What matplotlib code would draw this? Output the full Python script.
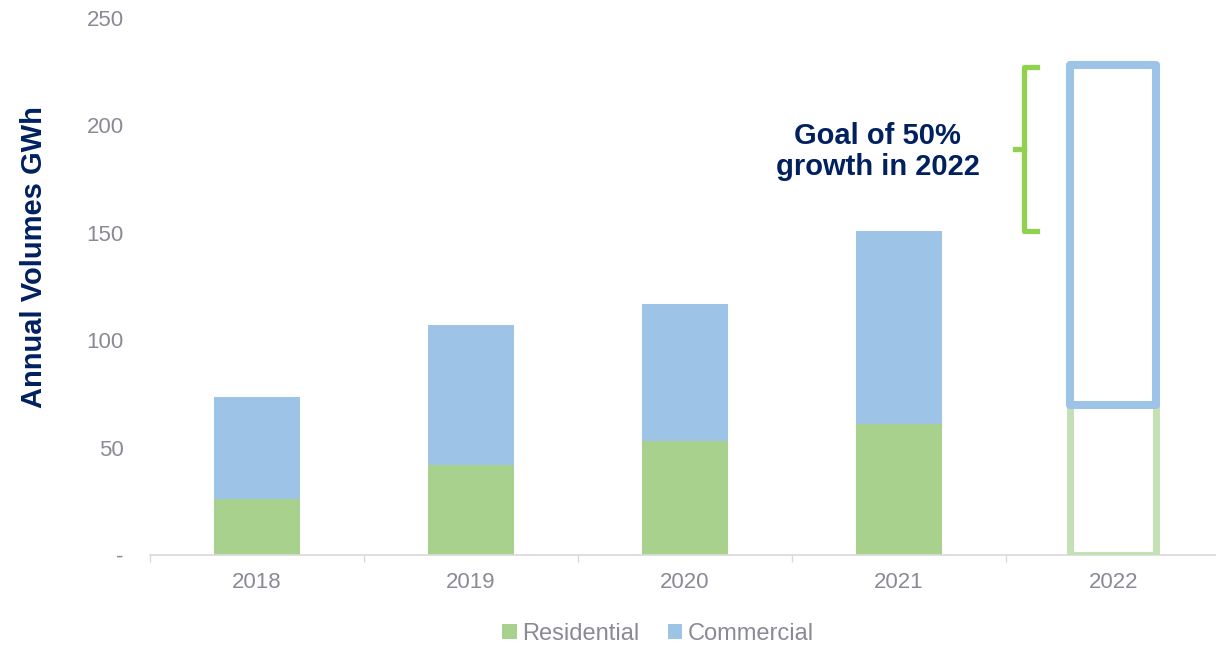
import matplotlib.pyplot as plt
import numpy as np
from matplotlib.ticker import FixedLocator

plt.rcParams['font.family'] = ['Liberation Sans', 'DejaVu Sans']

# data
years = ['2018', '2019', '2020', '2021', '2022']
residential = [26, 42, 53, 61, 70]
commercial = [47.5, 65, 64, 90, 158]
goal_low = 151
goal_high = 227

green = '#a9d18e'
blue = '#9dc3e6'
navy = '#002060'
grey_txt = '#8a8a96'

fig = plt.figure(figsize=(12.16, 6.45), dpi=100)
ax = fig.add_axes([0.1234, 0.1395, 0.88, 0.8326])

x = np.arange(len(years))
w = 0.4

# solid bars for actual years
ax.bar(x[:-1], residential[:-1], w, color=green, label='Residential', zorder=2)
ax.bar(x[:-1], commercial[:-1], w, bottom=residential[:-1], color=blue,
       label='Commercial', zorder=2)

# outlined bar for 2022 target
ax.bar(x[-1], residential[-1], w, fill=False, edgecolor='#c5e0b4', linewidth=5,
       zorder=3)
ax.bar(x[-1], commercial[-1], w, bottom=residential[-1], fill=False,
       edgecolor=blue, linewidth=5.8, joinstyle='round', zorder=4)

# bracket for the goal
bx = 3.585
ax.plot([bx + 0.06, bx, bx, bx + 0.06], [goal_low, goal_low, goal_high, goal_high],
        color='#92d050', linewidth=3.8, solid_joinstyle='round', zorder=3)
ax.plot([bx - 0.045, bx], [(goal_low + goal_high) / 2] * 2,
        color='#92d050', linewidth=3.8, zorder=3)
ax.text(2.9, 188, 'Goal of 50%\ngrowth in 2022', ha='center', va='center',
        fontsize=21, fontweight='bold', color=navy, linespacing=1.15)

ax.set_xlim(-0.5, 4.5)
ax.set_ylim(0, 250)
ax.set_xticks(x)
ax.set_xticklabels(years)
ax.xaxis.set_minor_locator(FixedLocator(np.arange(-0.5, 4.6, 1)))
ax.tick_params(axis='x', which='major', length=0, pad=12, labelsize=16,
               labelcolor=grey_txt)
ax.tick_params(axis='x', which='minor', length=5, color='#d9d9d9', width=1)
ax.set_yticks([0, 50, 100, 150, 200, 250])
ax.set_yticklabels(['-', '50', '100', '150', '200', '250'])
ax.tick_params(axis='y', length=0, pad=19, labelsize=16, labelcolor=grey_txt)

for s in ['top', 'right', 'left']:
    ax.spines[s].set_visible(False)
ax.spines['bottom'].set_color('#d9d9d9')
ax.spines['bottom'].set_linewidth(1.2)

ax.set_ylabel('Annual Volumes GWh', fontsize=21, fontweight='bold', color=navy)
ax.yaxis.set_label_coords(-0.095, 0.555)

leg = ax.legend(loc='center', bbox_to_anchor=(0.475, -0.147), ncol=2,
                frameon=False, fontsize=17, handlelength=0.6, handleheight=0.6,
                handletextpad=0.25, columnspacing=1.2)
for t in leg.get_texts():
    t.set_color(grey_txt)

fig.savefig('out.png', dpi=100)
